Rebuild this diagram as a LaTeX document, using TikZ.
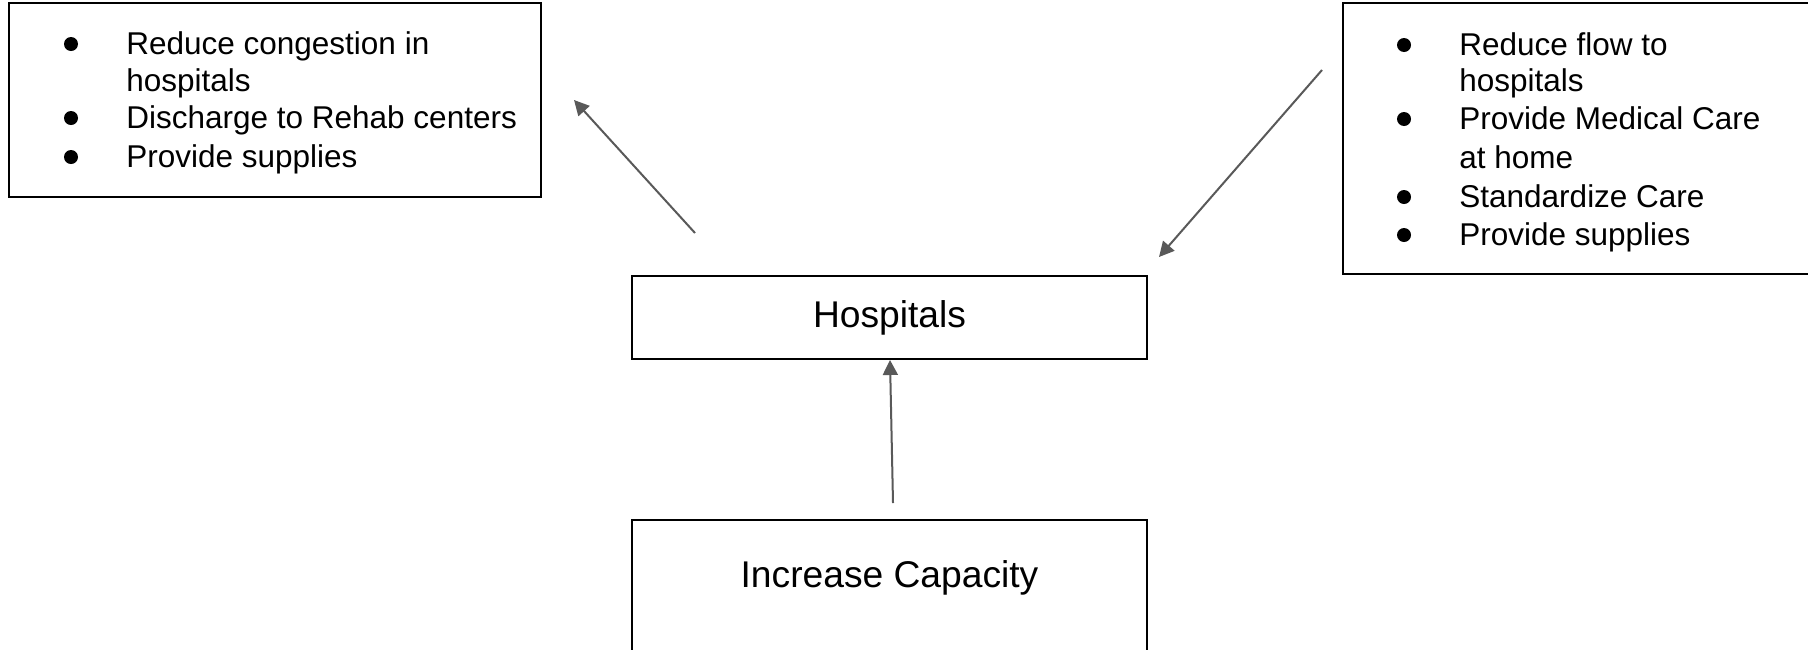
\documentclass[tikz,border=0pt]{standalone}
\usepackage{fontspec}
\setmainfont{Liberation Sans}
\usetikzlibrary{arrows.meta}
\definecolor{arrowgray}{HTML}{595959}
\tikzset{
  box/.style={draw=black, line width=1pt, rectangle, inner sep=0pt},
  conn/.style={draw=arrowgray, line width=1pt, -{Triangle[length=7.5pt,width=7.5pt]}},
  item/.style={anchor=base west, inner sep=0pt, font=\fontsize{15.75}{18}\selectfont},
  big/.style={font=\fontsize{18.6}{22}\selectfont},
  bulletdot/.style={fill=black, circle, inner sep=0pt, minimum size=7pt}
}
\begin{document}
\begin{tikzpicture}[x=0.5pt,y=-0.5pt]
\useasboundingbox (0,0) rectangle (1808,649);
\clip (0,0) rectangle (1808,649);
% boxes
\node[box, minimum width=266pt, minimum height=97pt] (left) at (275,100) {};
\node[box, minimum width=243.5pt, minimum height=135.5pt] (right) at (1586.5,138.5) {};
\node[box, big, minimum width=257.5pt, minimum height=41.5pt] (hosp) at (889.5,317.5) {Hospitals};
\node[box, minimum width=257.5pt, minimum height=100pt] (incr) at (889.5,620) {};
\node[big, anchor=base, inner sep=0pt] (incrtext) at (889.5,587) {Increase Capacity};
% left box items
\node[bulletdot] (lb1) at (71,44) {};
\node[item] (l1) at (126,54) {Reduce congestion in};
\node[item] (l2) at (126,91) {hospitals};
\node[bulletdot] (lb2) at (71,118) {};
\node[item] (l3) at (126,128) {Discharge to Rehab centers};
\node[bulletdot] (lb3) at (71,157) {};
\node[item] (l4) at (126,167) {Provide supplies};
% right box items
\node[bulletdot] (rb1) at (1404,45) {};
\node[item] (r1) at (1459,55) {Reduce flow to};
\node[item] (r2) at (1459,91) {hospitals};
\node[bulletdot] (rb2) at (1404,119) {};
\node[item] (r3) at (1459,129) {Provide Medical Care};
\node[item] (r4) at (1459,168) {at home};
\node[bulletdot] (rb3) at (1404,197) {};
\node[item] (r5) at (1459,207) {Standardize Care};
\node[bulletdot] (rb4) at (1404,235) {};
\node[item] (r6) at (1459,245) {Provide supplies};
% connectors
\coordinate (a1s) at (695,233);
\coordinate (a1e) at (574,100);
\coordinate (a2s) at (1322,70);
\coordinate (a2e) at (1159,257);
\coordinate (a3s) at (893,503);
\coordinate (a3e) at (890,360);
\draw[conn] (a1s) -- (a1e);
\draw[conn] (a2s) -- (a2e);
\draw[conn] (a3s) -- (a3e);
\end{tikzpicture}
\end{document}
